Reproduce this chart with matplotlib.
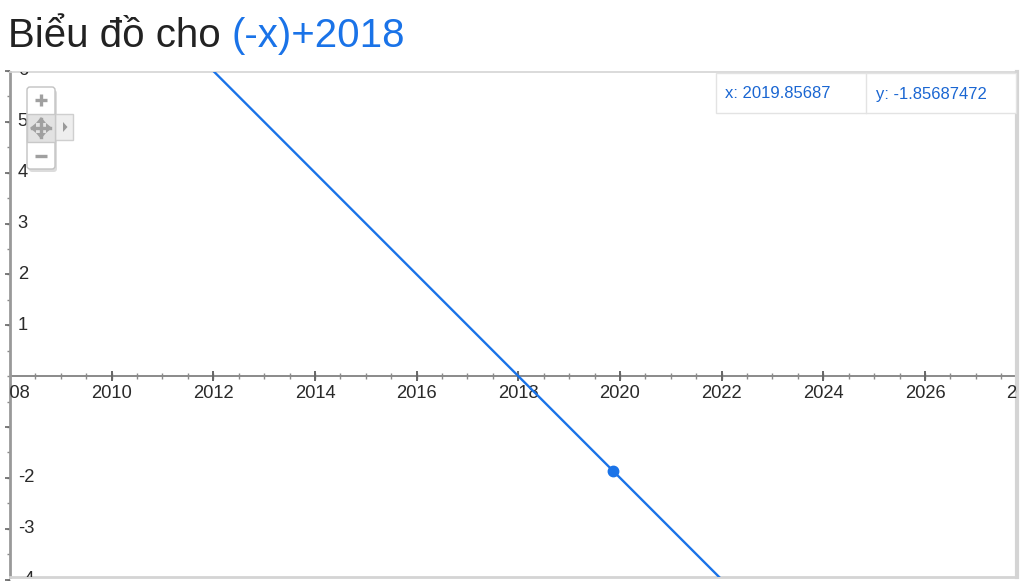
import numpy as np
import matplotlib
matplotlib.use("Agg")
import matplotlib.pyplot as plt
from matplotlib.patches import FancyBboxPatch, Rectangle, Polygon

plt.rcParams["font.family"] = ["Liberation Sans", "DejaVu Sans"]

# ----------------------------
# data
# ----------------------------
X_RANGE = (2008.0, 2027.81)
Y_RANGE = (-3.95, 5.98)
LINE_X = np.array([2008.0, 2027.81])
LINE_Y = -LINE_X + 2018            # f(x) = (-x)+2018
POINT_X = 2019.85687
POINT_Y = -1.85687472

X_MAJOR = [2008, 2010, 2012, 2014, 2016, 2018, 2020, 2022, 2024, 2026, 2028]
X_MINOR = list(np.arange(2008, 2028.01, 0.5))
Y_LABELED = [-4, -3, -2, 1, 2, 3, 4, 5, 6]
Y_MAJOR = [-4, -3, -2, -1, 1, 2, 3, 4, 5, 6]
Y_MINOR = list(np.arange(-4, 6.01, 0.5))

BLUE = "#1a73e8"
AX_GRAY = "#8a8a8a"
TXT = "#2a2a2a"

W, H = 1024, 581
fig = plt.figure(figsize=(W / 100, H / 100), dpi=100)
fig.patch.set_facecolor("white")

# plot area (pixel box 10..1017 x 72..577)
ax = fig.add_axes([10 / W, 4 / H, 1007 / W, 505 / H])
ax.set_xlim(*X_RANGE)
ax.set_ylim(*Y_RANGE)
ax.set_xticks([]); ax.set_yticks([])
for s in ["top", "right", "bottom"]:
    ax.spines[s].set_color("#d4d4d4")
ax.spines["top"].set_linewidth(1.2)
ax.spines["right"].set_linewidth(3)
ax.spines["bottom"].set_linewidth(2)
ax.spines["left"].set_color("#999999")
ax.spines["left"].set_linewidth(2)

# x axis line + ticks
ax.axhline(0, color=AX_GRAY, lw=1.4, zorder=1)
ax.plot(X_MINOR, [0] * len(X_MINOR), ls="none", marker="|", ms=4,
        mew=1, color=AX_GRAY, zorder=1)
ax.plot(X_MAJOR, [0] * len(X_MAJOR), ls="none", marker="|", ms=7,
        mew=1.4, color="#666666", zorder=1, clip_on=True)
for v in X_MAJOR:
    ax.annotate(str(v), xy=(v, 0), xytext=(0, -12.5), textcoords="offset points",
                ha="center", va="center", fontsize=13.2, color=TXT,
                annotation_clip=False, clip_on=True)

# y axis ticks (axis pinned to left edge)
x0 = X_RANGE[0]
ax.plot([x0] * len(Y_MINOR), Y_MINOR, ls="none", marker=0, ms=2.5,
        mew=1, color=AX_GRAY, clip_on=False)
ax.plot([x0] * len(Y_MAJOR), Y_MAJOR, ls="none", marker=0, ms=3.5,
        mew=1.2, color="#666666", clip_on=False)
for v in Y_LABELED:
    ax.annotate(str(v), xy=(x0, v), xytext=(5.5, 0), textcoords="offset points",
                ha="left", va="center", fontsize=13.2, color=TXT,
                annotation_clip=False, clip_on=True)

# function line and point
ax.plot(LINE_X, LINE_Y, color=BLUE, lw=1.7, zorder=3)
ax.plot([POINT_X], [POINT_Y], "o", color=BLUE, ms=7.5, zorder=4)

# ----------------------------
# overlay in pixel coordinates (title, widgets)
# ----------------------------
ov = fig.add_axes([0, 0, 1, 1], zorder=5)
ov.set_xlim(0, W); ov.set_ylim(H, 0)
ov.axis("off")
ov.patch.set_alpha(0)

t1 = ov.text(8, 47, "Biểu đồ cho ", fontsize=29, color="#222222",
             ha="left", va="baseline")
ov.annotate("(-x)+2018", xy=(1, 0), xycoords=t1, fontsize=29, color=BLUE,
            ha="left", va="bottom")

# hover readout box
ov.add_patch(Rectangle((716, 73), 300, 40, fc="white", ec="#e3e3e3", lw=1))
ov.plot([866, 866], [73, 113], color="#e3e3e3", lw=1)
ov.text(725, 94, f"x: {POINT_X:.5f}", fontsize=12, color="#1a66d2",
        ha="left", va="center")
ov.text(876, 94, f"y: {POINT_Y:.8f}", fontsize=12, color="#1a66d2",
        ha="left", va="center")

# zoom / pan widget
ov.add_patch(FancyBboxPatch((29, 90), 28, 82, boxstyle="round,pad=0,rounding_size=3",
                            fc="#bbbbbb", ec="none", alpha=0.5))
ov.add_patch(Rectangle((55, 114), 18, 26, fc="#eeeeee", ec="#cfcfcf", lw=1))
ov.add_patch(Polygon([[63, 122], [63, 132], [67.5, 127]], closed=True,
                     fc="#9a9a9a", ec="none"))
ov.add_patch(FancyBboxPatch((27, 87), 28, 82, boxstyle="round,pad=0,rounding_size=3",
                            fc="white", ec="#c2c2c2", lw=1))
ov.add_patch(Rectangle((27, 114), 28, 28, fc="#e2e2e2", ec="#c8c8c8", lw=1))
g = "#a0a0a0"
ov.plot([35, 47], [100, 100], color=g, lw=2.4, solid_capstyle="butt")
ov.plot([41, 41], [94, 106], color=g, lw=2.4, solid_capstyle="butt")
ov.plot([35, 47], [156, 156], color=g, lw=2.4, solid_capstyle="butt")
ov.plot([32, 50], [128, 128], color=g, lw=2.4)
ov.plot([41, 41], [119, 137], color=g, lw=2.4)
for (px, py, dx, dy) in [(30, 128, 1, 0), (52, 128, -1, 0), (41, 117, 0, 1), (41, 139, 0, -1)]:
    if dx:
        tri = [[px, py], [px + dx * 6, py - 5], [px + dx * 6, py + 5]]
    else:
        tri = [[px, py], [px - 5, py + dy * 6], [px + 5, py + dy * 6]]
    ov.add_patch(Polygon(tri, closed=True, fc=g, ec="none"))

fig.savefig("out.png", dpi=100, facecolor="white")
